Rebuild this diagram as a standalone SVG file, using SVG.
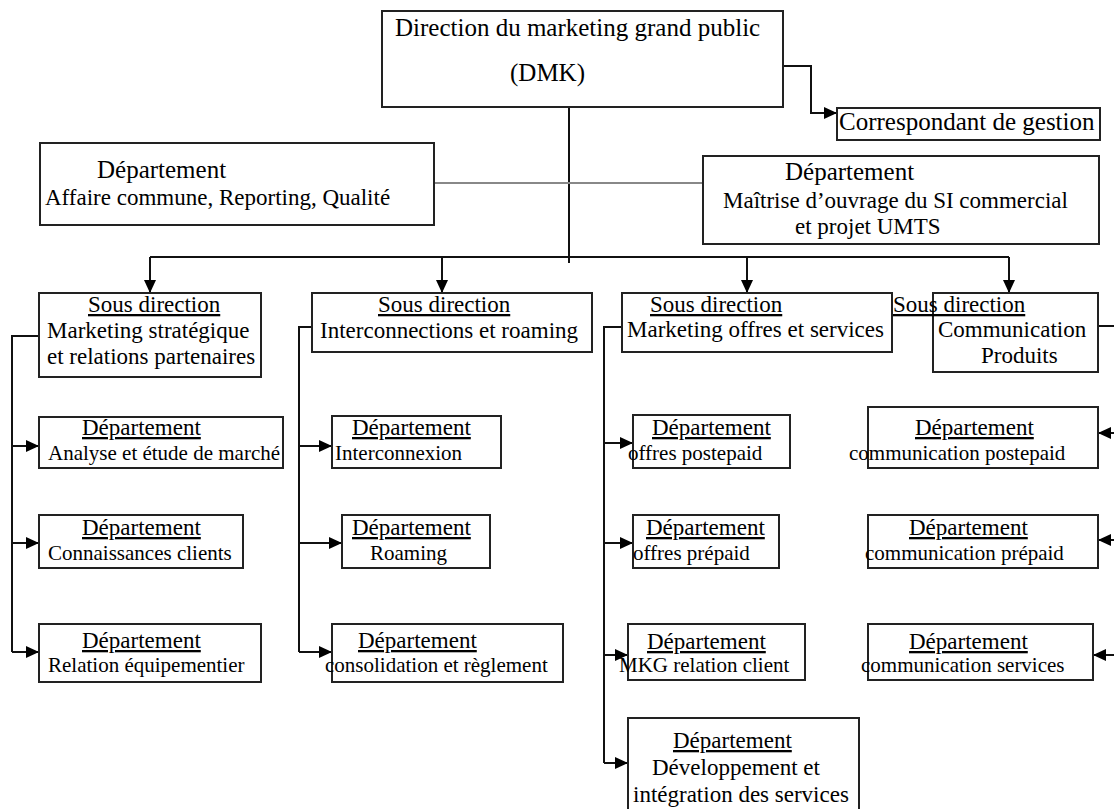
<svg xmlns="http://www.w3.org/2000/svg" width="1114" height="809" viewBox="0 0 1114 809">
<defs>
<marker id="ah" markerUnits="userSpaceOnUse" markerWidth="14" markerHeight="14" viewBox="0 0 14 14" refX="13" refY="7" orient="auto">
<path d="M0,1 L13,7 L0,13 z" fill="#000"/>
</marker>
<style>
.box{fill:#fff;stroke:#222;stroke-width:2}
.t{font-family:"Liberation Serif","Times New Roman",serif;fill:#000}
.s25{font-size:25px}
.s23{font-size:23px}
.s21{font-size:21px}
.u{text-decoration:underline}
.ln{fill:none;stroke:#111;stroke-width:2}
.arr{fill:none;stroke:#111;stroke-width:2;marker-end:url(#ah)}
.gray{fill:none;stroke:#888;stroke-width:2}
</style>
</defs>
<rect width="1114" height="809" fill="#fff"/>

<g id="connectors">
<path class="ln" d="M569,107 V263"/>
<path class="arr" d="M783,66 H811 V113 H837"/>
<path class="gray" d="M434,183 H703"/>
<path class="ln" d="M150,257 H1009"/>
<path class="arr" d="M150,257 V293"/>
<path class="arr" d="M442,257 V293"/>
<path class="arr" d="M747,257 V293"/>
<path class="arr" d="M1009,257 V293"/>
<path class="ln" d="M39,336 H12 V652"/>
<path class="arr" d="M12,446 H39"/>
<path class="arr" d="M12,543 H39"/>
<path class="arr" d="M12,652 H39"/>
<path class="ln" d="M312,327 H299 V652"/>
<path class="arr" d="M299,446 H332"/>
<path class="arr" d="M299,543 H342"/>
<path class="arr" d="M299,652 H332"/>
<path class="ln" d="M622,327 H604 V763"/>
<path class="arr" d="M604,443 H633"/>
<path class="arr" d="M604,543 H633"/>
<path class="arr" d="M604,655 H628"/>
<path class="arr" d="M604,763 H628"/>
<path class="ln" d="M1098,326 H1114"/>
<path class="arr" d="M1114,433 H1098"/>
<path class="arr" d="M1114,540 H1098"/>
<path class="arr" d="M1114,655 H1093"/>
</g>

<g id="dmk">
<rect class="box" x="382" y="11" width="401" height="96"/>
<text class="t s25" x="395" y="36">Direction du marketing grand public</text>
<text class="t s25" x="510" y="81">(DMK)</text>
</g>

<g id="correspondant">
<rect class="box" x="837" y="108" width="263" height="32"/>
<text class="t s25" x="839" y="130">Correspondant de gestion</text>
</g>

<g id="dept-affaire">
<rect class="box" x="40" y="143" width="394" height="82"/>
<text class="t s25" x="97" y="178">Département</text>
<text class="t s23" x="45" y="205">Affaire commune, Reporting, Qualité</text>
</g>

<g id="dept-moa">
<rect class="box" x="703" y="156" width="396" height="88"/>
<text class="t s25" x="785" y="180">Département</text>
<text class="t s23" x="723" y="208">Maîtrise d’ouvrage du SI commercial</text>
<text class="t s23" x="795" y="234">et projet UMTS</text>
</g>

<g id="sd-marketing-strategique">
<rect class="box" x="39" y="293" width="222" height="84"/>
<text class="t s23 u" x="88" y="312">Sous direction</text>
<text class="t s23" x="47" y="338">Marketing stratégique</text>
<text class="t s23" x="47" y="364">et relations partenaires</text>
</g>

<g id="sd-interconnections">
<rect class="box" x="312" y="293" width="280" height="59"/>
<text class="t s23 u" x="378" y="312">Sous direction</text>
<text class="t s23" x="320" y="338">Interconnections et roaming</text>
</g>

<g id="sd-offres">
<rect class="box" x="622" y="293" width="270" height="59"/>
<text class="t s23 u" x="650" y="312">Sous direction</text>
<text class="t s23" x="627" y="337">Marketing offres et services</text>
</g>

<g id="sd-communication">
<rect class="box" x="933" y="293" width="165" height="79"/>
<text class="t s23 u" x="893" y="312">Sous direction</text>
<text class="t s23" x="938" y="337">Communication</text>
<text class="t s23" x="981" y="363">Produits</text>
</g>

<g id="d-analyse">
<rect class="box" x="39" y="417" width="244" height="51"/>
<text class="t s23 u" x="82" y="435">Département</text>
<text class="t s21" x="48" y="460">Analyse et étude de marché</text>
</g>

<g id="d-connaissances">
<rect class="box" x="39" y="515" width="204" height="53"/>
<text class="t s23 u" x="82" y="535">Département</text>
<text class="t s21" x="48" y="560">Connaissances clients</text>
</g>

<g id="d-relation-equip">
<rect class="box" x="39" y="624" width="222" height="58"/>
<text class="t s23 u" x="82" y="648">Département</text>
<text class="t s21" x="48" y="672">Relation équipementier</text>
</g>

<g id="d-interconnexion">
<rect class="box" x="332" y="416" width="169" height="52"/>
<text class="t s23 u" x="352" y="435">Département</text>
<text class="t s21" x="335" y="460">Interconnexion</text>
</g>

<g id="d-roaming">
<rect class="box" x="342" y="515" width="148" height="53"/>
<text class="t s23 u" x="352" y="535">Département</text>
<text class="t s21" x="370" y="560">Roaming</text>
</g>

<g id="d-consolidation">
<rect class="box" x="332" y="624" width="231" height="58"/>
<text class="t s23 u" x="358" y="648">Département</text>
<text class="t s21" x="325" y="672">consolidation et règlement</text>
</g>

<g id="d-postepaid">
<rect class="box" x="633" y="415" width="157" height="53"/>
<text class="t s23 u" x="652" y="435">Département</text>
<text class="t s21" x="628" y="460">offres postepaid</text>
</g>

<g id="d-prepaid">
<rect class="box" x="633" y="515" width="146" height="53"/>
<text class="t s23 u" x="646" y="535">Département</text>
<text class="t s21" x="633" y="560">offres prépaid</text>
</g>

<g id="d-mkg">
<rect class="box" x="628" y="624" width="177" height="56"/>
<text class="t s23 u" x="647" y="649">Département</text>
<text class="t s21" x="619" y="672">MKG relation client</text>
</g>

<g id="d-developpement">
<rect class="box" x="628" y="718" width="231" height="100"/>
<text class="t s23 u" x="673" y="748">Département</text>
<text class="t s23" x="652" y="775">Développement et</text>
<text class="t s23" x="633" y="802">intégration des services</text>
</g>

<g id="d-com-postepaid">
<rect class="box" x="868" y="407" width="230" height="61"/>
<text class="t s23 u" x="915" y="435">Département</text>
<text class="t s21" x="849" y="460">communication postepaid</text>
</g>

<g id="d-com-prepaid">
<rect class="box" x="868" y="515" width="230" height="53"/>
<text class="t s23 u" x="909" y="535">Département</text>
<text class="t s21" x="865" y="560">communication prépaid</text>
</g>

<g id="d-com-services">
<rect class="box" x="868" y="624" width="225" height="56"/>
<text class="t s23 u" x="909" y="649">Département</text>
<text class="t s21" x="861" y="672">communication services</text>
</g>
</svg>
